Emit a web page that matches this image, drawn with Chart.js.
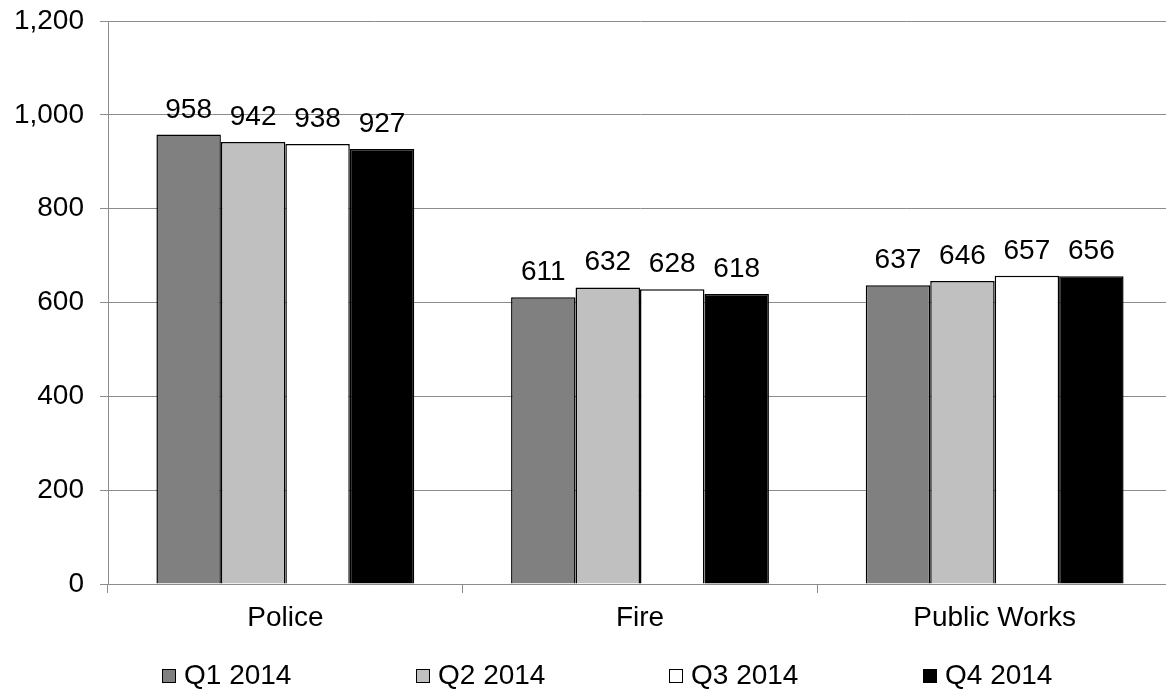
<!DOCTYPE html>
<html>
<head>
<meta charset="utf-8">
<script src="https://cdn.jsdelivr.net/npm/chart.js@4.4.1/dist/chart.umd.min.js"></script>
<style>
  html, body { margin: 0; padding: 0; background: #ffffff; overflow: hidden; }
  #wrap { position: relative; width: 1214px; height: 689px; }
</style>
</head>
<body>
<div id="wrap"><canvas id="chart"></canvas></div>
<script>
// Headcount by department, quarterly
const categories = ['Police', 'Fire', 'Public Works'];
const seriesNames = ['Q1 2014', 'Q2 2014', 'Q3 2014', 'Q4 2014'];
const q1 = [958, 611, 637];
const q2 = [942, 632, 646];
const q3 = [938, 628, 657];
const q4 = [927, 618, 656];
const yTicks = [0, 200, 400, 600, 800, 1000, 1200];

const seriesValues = [q1, q2, q3, q4];
const fills = ['#808080', '#c0c0c0', '#ffffff', '#000000'];
const FONT = "'Liberation Sans', Arial, sans-serif";
const fmt = v => v.toLocaleString('en-US');

// Value labels above each bar
const valueLabels = {
  id: 'valueLabels',
  afterDatasetsDraw(chart) {
    const ctx = chart.ctx;
    ctx.save();
    ctx.font = '28px ' + FONT;
    ctx.fillStyle = '#000000';
    ctx.textAlign = 'center';
    ctx.textBaseline = 'alphabetic';
    chart.data.datasets.forEach((ds, i) => {
      chart.getDatasetMeta(i).data.forEach((bar, j) => {
        ctx.fillText(fmt(ds.data[j]), bar.x, bar.y - 17);
      });
    });
    ctx.restore();
  }
};

// Legend row under the axis: square swatch followed by the series name
const squareLegend = {
  id: 'squareLegend',
  afterDraw(chart) {
    const ctx = chart.ctx;
    const startX = 162, step = 253.7, boxTop = 669, box = 14, baseline = 684;
    ctx.save();
    ctx.font = '28px ' + FONT;
    ctx.textBaseline = 'alphabetic';
    ctx.textAlign = 'left';
    chart.data.datasets.forEach((ds, i) => {
      const x = Math.round(startX + i * step);
      ctx.fillStyle = ds.backgroundColor;
      ctx.fillRect(x + 0.5, boxTop + 0.5, box - 1, box - 1);
      ctx.strokeStyle = '#000000';
      ctx.lineWidth = 1;
      ctx.strokeRect(x + 0.5, boxTop + 0.5, box - 1, box - 1);
      ctx.fillStyle = '#000000';
      ctx.fillText(ds.label, x + box + 8, baseline);
    });
    ctx.restore();
  }
};

const gridColor = '#8c8c8c';

new Chart(document.getElementById('chart'), {
  type: 'bar',
  data: {
    labels: categories,
    datasets: seriesNames.map((name, i) => ({
      label: name,
      data: seriesValues[i],
      backgroundColor: fills[i],
      borderColor: '#000000',
      borderWidth: 1.5,
      categoryPercentage: 0.727,
      barPercentage: 1.0
    }))
  },
  options: {
    responsive: true,
    maintainAspectRatio: false,
    animation: false,
    layout: { padding: { top: 21, right: 42, bottom: 55, left: 0 } },
    plugins: {
      legend: { display: false },
      tooltip: { enabled: false }
    },
    scales: {
      x: {
        grid: {
          offset: true,
          drawOnChartArea: false,
          drawTicks: true,
          tickLength: 9,
          color: gridColor,
          lineWidth: 1
        },
        border: { display: true, color: gridColor, width: 1 },
        ticks: { font: { family: FONT, size: 28 }, color: '#000000', padding: 8 },
        afterFit(scale) { scale.height = 50; }
      },
      y: {
        min: 0,
        max: 1200,
        afterBuildTicks(scale) { scale.ticks = yTicks.map(v => ({ value: v })); },
        grid: {
          color: gridColor,
          lineWidth: 1,
          drawTicks: true,
          tickLength: 8
        },
        border: { display: true, color: gridColor, width: 1 },
        ticks: {
          font: { family: FONT, size: 28 },
          color: '#000000',
          padding: 16,
          callback: v => fmt(v)
        },
        afterFit(scale) {
          scale.width = 108;
          scale.paddingTop = 0;
          scale.paddingBottom = 0;
        }
      }
    }
  },
  plugins: [valueLabels, squareLegend]
});
</script>
</body>
</html>
